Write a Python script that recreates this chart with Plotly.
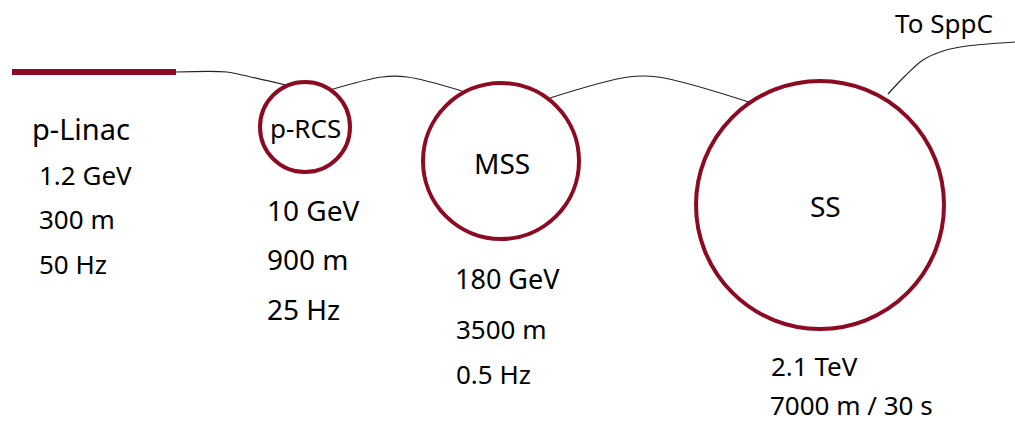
import plotly.graph_objects as go

# ring stages of the proton injector chain (pixel-space diagram units)
ring_names = ["p-RCS", "MSS", "SS"]
ring_x = [305, 501, 820]
ring_y = [127, 161, 205]
ring_r = [45, 78, 124]

# linac drawn as a thick bar
linac_x = [12, 176]
linac_y = [72, 72]

# thin transfer lines between the stages
beamlines = [
    ([176, 227, 242, 290], [72, 72, 75, 86]),
    ([330, 382, 407, 462], [90, 77, 77, 91]),
    ([550, 628, 658, 752], [98, 77, 77, 103]),
    ([888, 905, 923, 940, 960, 1015], [94, 76, 60, 52, 47, 42]),
]

# labels: text, x (left), y (middle), font size
label_text = [
    "p-Linac", "1.2 GeV", "300 m", "50 Hz",
    "p-RCS", "10 GeV", "900 m", "25 Hz",
    "MSS", "180 GeV", "3500 m", "0.5 Hz",
    "SS", "2.1 TeV", "7000 m / 30 s",
    "To SppC",
]
label_x = [30, 37, 37, 37, 268, 265, 265, 265, 472, 453, 454, 454, 808, 769, 768, 893]
label_y = [128, 175, 219, 264, 128, 210, 259, 309, 163, 278, 329, 374, 206, 366, 405, 23]
label_size = [29, 26, 26, 26, 26, 28, 28, 28, 28, 27, 26, 26, 28, 26, 26, 26]

RED = "#8c0a22"

fig = go.Figure()

fig.add_trace(
    go.Scatter(x=linac_x, y=linac_y, mode="lines",
               line=dict(color=RED, width=6), hoverinfo="skip")
)
for bx, by in beamlines:
    fig.add_trace(
        go.Scatter(x=bx, y=by, mode="lines", line_shape="spline",
                   line=dict(color="#222222", width=1.2), hoverinfo="skip")
    )

for cx, cy, r in zip(ring_x, ring_y, ring_r):
    fig.add_shape(
        type="circle", xref="x", yref="y",
        x0=cx - r, x1=cx + r, y0=cy - r, y1=cy + r,
        line=dict(color=RED, width=4),
    )

for t, x, y, s in zip(label_text, label_x, label_y, label_size):
    fig.add_annotation(
        x=x, y=y, text=t, showarrow=False,
        xanchor="left", yanchor="middle",
        font=dict(family="Noto Sans", size=s, color="black"),
    )

fig.update_layout(
    width=1015, height=423,
    margin=dict(l=0, r=0, t=0, b=0),
    paper_bgcolor="white", plot_bgcolor="white",
    showlegend=False,
    xaxis=dict(range=[0, 1015], visible=False, fixedrange=True),
    yaxis=dict(range=[423, 0], visible=False, fixedrange=True),
)

fig.write_html(
    "out.html",
    config={"displayModeBar": False},
    post_script="document.body.style.margin='0';document.body.style.overflow='hidden';",
)
